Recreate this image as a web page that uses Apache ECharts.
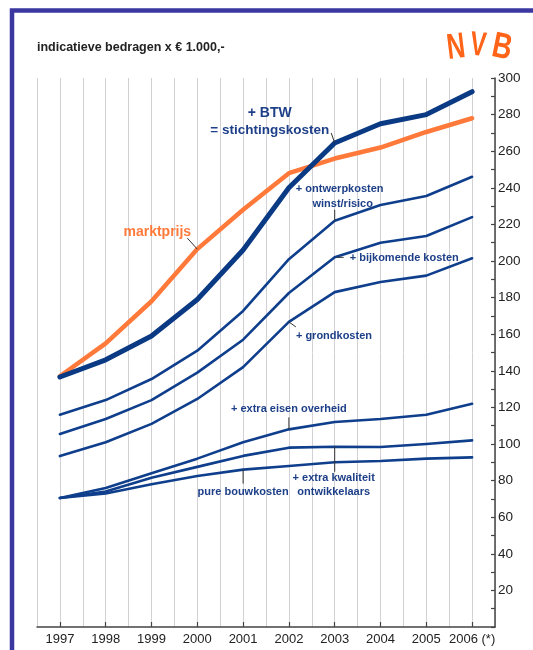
<!DOCTYPE html>
<html>
<head>
<meta charset="utf-8">
<script src="https://cdn.jsdelivr.net/npm/echarts@6/dist/echarts.min.js"></script>
<style>
  html, body { margin: 0; padding: 0; background: #ffffff; }
  #chart { width: 533px; height: 650px; }
</style>
</head>
<body>
<div id="chart"></div>
<script>
// Years on the category axis and their printed labels
const years = ['1997', '1998', '1999', '2000', '2001', '2002', '2003', '2004', '2005', '2006'];
const yearLabels = ['1997', '1998', '1999', '2000', '2001', '2002', '2003', '2004', '2005', '2006 (*)'];

// Cumulative cost layers, in thousands of euros
const bouwkosten       = [70.5, 73, 78, 82.5, 86, 88, 90, 90.7, 92, 92.7];
const extraKwaliteit   = [70.5, 74, 81.5, 87.5, 93.5, 98, 98.5, 98.4, 100, 102];
const extraEisen       = [70.5, 76, 84, 92, 101, 108, 112, 113.7, 116, 122];
const grondkosten      = [93.4, 101, 111, 124.6, 142, 166.7, 183, 188.5, 192, 201.5];
const bijkomendeKosten = [105.5, 113.7, 124, 139, 157, 182.5, 202, 210, 213.7, 224];
const ontwerpkosten    = [116, 124, 135.5, 151, 172.7, 201, 222, 230.6, 235.5, 246];
const stichtingskosten = [136.6, 146, 159, 179, 206, 240, 264.5, 275, 280, 292.5];
const marktprijs       = [137, 155, 178, 206.5, 228, 248, 256, 262, 270.5, 278];

// Right-hand value axis
const yMin = 0, yMax = 300, yStep = 20;

const NAVY = '#0f3f8c';
const ORANGE = '#ff7a3a';
const TEXT_NAVY = '#1d3f88';
const FONT = '"Liberation Sans", Arial, Helvetica, sans-serif';

const chart = echarts.init(document.getElementById('chart'), null, { renderer: 'canvas' });

function layer(name, data, width, color, z) {
  return {
    name, type: 'line', data, xAxisIndex: 1, yAxisIndex: 0,
    symbol: 'none', smooth: false, z,
    lineStyle: { color, width, cap: 'round', join: 'round' }
  };
}

chart.setOption({
  animation: false,
  backgroundColor: '#ffffff',
  grid: { left: 37, right: 38, top: 78, bottom: 23, containLabel: false },
  xAxis: [
    {
      // half-year grid lines
      type: 'value', min: 1996.5, max: 2006.5, interval: 0.5,
      axisLine: { show: false }, axisTick: { show: false }, axisLabel: { show: false },
      splitLine: { show: true, lineStyle: { color: '#d2d2d6', width: 1 } }
    },
    {
      type: 'category', data: years, boundaryGap: true, position: 'bottom',
      axisLine: { show: true, lineStyle: { color: '#444', width: 1.5 } },
      axisTick: { show: true, alignWithLabel: true, interval: 0, length: 5, inside: true, lineStyle: { color: '#444', width: 1.2 } },
      axisLabel: {
        interval: 0, hideOverlap: false, margin: 6, color: '#222', fontFamily: FONT, fontSize: 13,
        formatter: (v, i) => yearLabels[i]
      },
      splitLine: { show: false }
    }
  ],
  yAxis: [{
    type: 'value', position: 'right', min: yMin, max: yMax, interval: yStep,
    axisLine: { show: true, onZero: false, lineStyle: { color: '#444', width: 1.5 } },
    axisTick: { show: true, inside: true, length: 4, lineStyle: { color: '#444', width: 1.2 } },
    minorTick: { show: true, splitNumber: 2, length: 4, lineStyle: { color: '#444', width: 1.2 } },
    axisLabel: {
      margin: 3, color: '#222', fontFamily: FONT, fontSize: 13.5,
      formatter: v => (v === 0 ? '' : String(v))
    },
    splitLine: { show: false }
  }],
  series: [
    layer('pure bouwkosten', bouwkosten, 2.6, NAVY, 3),
    layer('+ extra kwaliteit ontwikkelaars', extraKwaliteit, 2.6, NAVY, 3),
    layer('+ extra eisen overheid', extraEisen, 2.6, NAVY, 3),
    layer('+ grondkosten', grondkosten, 2.6, NAVY, 3),
    layer('+ bijkomende kosten', bijkomendeKosten, 2.6, NAVY, 3),
    layer('+ ontwerpkosten winst/risico', ontwerpkosten, 2.6, NAVY, 3),
    layer('marktprijs', marktprijs, 4.5, ORANGE, 4),
    layer('+ BTW = stichtingskosten', stichtingskosten, 5, '#0b3a84', 5)
  ]
});

// Annotations: each label hangs off a point of its series with a short leader
const pt = (seriesIndex, i, data) => chart.convertToPixel({ seriesIndex }, [years[i], data[i]]);

function leader(p, dx1, dy1, dx2, dy2) {
  return {
    type: 'line', z: 20, silent: true,
    shape: { x1: p[0] + dx1, y1: p[1] + dy1, x2: p[0] + dx2, y2: p[1] + dy2 },
    style: { stroke: '#333', lineWidth: 1 }
  };
}
function label(text, x, y, opts) {
  const o = opts || {};
  return {
    type: 'text', z: 20, silent: true, x, y,
    style: {
      text, fill: o.color || TEXT_NAVY,
      font: `bold ${o.size || 11}px ${FONT}`,
      align: o.align || 'center', verticalAlign: 'middle'
    }
  };
}

const pBtw = pt(7, 6, stichtingskosten);
const pMarkt = pt(6, 3, marktprijs);
const pOntw = pt(5, 6, ontwerpkosten);
const pBijk = pt(4, 6, bijkomendeKosten);
const pGrond = pt(3, 5, grondkosten);
const pEisen = pt(2, 5, extraEisen);
const pKwal = pt(1, 6, extraKwaliteit);
const pBouw = pt(0, 4, bouwkosten);

const graphics = [
  // frame
  {
    type: 'rect', z: 30, silent: true,
    shape: { x: 12, y: 10.5, width: 620, height: 700 },
    style: { fill: 'none', stroke: '#3b37a0', lineWidth: 4.5 }
  },
  // heading
  {
    type: 'text', z: 20, x: 37, y: 48,
    style: { text: 'indicatieve bedragen x € 1.000,-', fill: '#222', font: `bold 12.5px ${FONT}`, verticalAlign: 'middle' }
  },
  // logo
  { type: 'text', z: 20, x: 456, y: 48, rotation: 0.12, scaleX: 0.7,
    style: { text: 'N', fill: '#ff6418', font: `bold 36px ${FONT}`, align: 'center', verticalAlign: 'middle' } },
  { type: 'text', z: 20, x: 478, y: 46, rotation: -0.1, scaleX: 0.7,
    style: { text: 'V', fill: '#ff6418', font: `bold 34px ${FONT}`, align: 'center', verticalAlign: 'middle' } },
  { type: 'text', z: 20, x: 502, y: 48, rotation: -0.2, scaleX: 0.75,
    style: { text: 'B', fill: '#ff6418', font: `bold 36px ${FONT}`, align: 'center', verticalAlign: 'middle' } },

  leader(pBtw, -3.5, -10, 0, 0),
  label('+ BTW', pBtw[0] - 65, pBtw[1] - 30, { size: 14 }),
  label('= stichtingskosten', pBtw[0] - 65, pBtw[1] - 13, { size: 13.5 }),

  leader(pMarkt, -10, -11, 0, 0),
  label('marktprijs', pMarkt[0] - 40, pMarkt[1] - 17, { size: 14, color: ORANGE }),

  leader(pOntw, 0, -11, 0, 0),
  label('+ ontwerpkosten', pOntw[0] + 5, pOntw[1] - 32),
  label('winst/risico', pOntw[0] + 8, pOntw[1] - 17),

  leader(pBijk, 2, 0, 9, 0),
  label('+ bijkomende kosten', pBijk[0] + 15, pBijk[1] + 1, { align: 'left' }),

  leader(pGrond, 0, 0, 7, 5),
  label('+ grondkosten', pGrond[0] + 7, pGrond[1] + 14, { align: 'left' }),

  leader(pEisen, 0, -12, 0, 0),
  label('+ extra eisen overheid', pEisen[0], pEisen[1] - 20),

  leader(pKwal, 0, 0, 0, 25),
  label('+ extra kwaliteit', pKwal[0] - 1, pKwal[1] + 31),
  label('ontwikkelaars', pKwal[0] - 1, pKwal[1] + 45),

  leader(pBouw, 0, 0, 0, 14),
  label('pure bouwkosten', pBouw[0], pBouw[1] + 22)
];

chart.setOption({ graphic: graphics });
</script>
</body>
</html>
